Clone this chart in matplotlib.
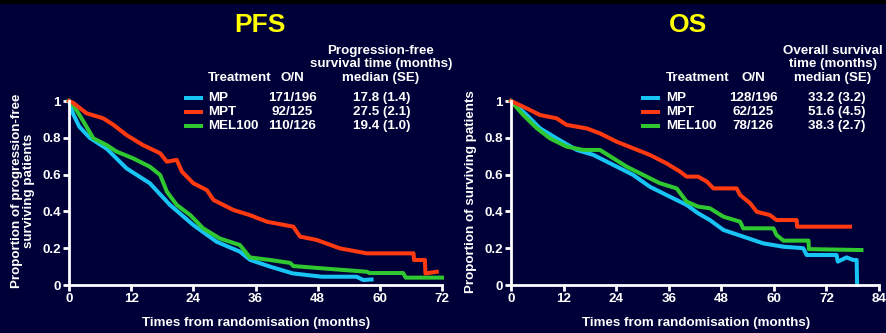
import matplotlib.pyplot as plt
from matplotlib.patches import Rectangle

# PFS curves (months, proportion)
pfs_mp_t = [0, 0.8, 2, 4, 7.3, 11.1, 15.6, 19.5, 24, 28.5, 33, 35, 38.8, 43.2, 48.8, 55.5, 56.8, 58.4]
pfs_mp_s = [1, 0.93, 0.86, 0.80, 0.74, 0.634, 0.553, 0.435, 0.326, 0.235, 0.181, 0.136, 0.10, 0.063, 0.045, 0.045, 0.027, 0.03]

pfs_mpt_t = [0, 0.8, 3.4, 6.6, 8.6, 11.1, 14.3, 17.6, 18.9, 20.8, 21.8, 24, 26.6, 27.9, 31.7, 34.9, 38.2,
             43.3, 44.6, 47.8, 52.3, 57.5, 66.5, 66.6, 68.7, 68.8, 71]
pfs_mpt_s = [1, 0.99, 0.933, 0.906, 0.87, 0.815, 0.76, 0.716, 0.67, 0.68, 0.616, 0.553, 0.516, 0.462, 0.408, 0.38, 0.344,
             0.317, 0.263, 0.245, 0.199, 0.172, 0.172, 0.136, 0.136, 0.063, 0.072]

pfs_mel_t = [0, 0.8, 2.8, 4.7, 7.3, 9.2, 12.4, 15.6, 17.6, 18.9, 20.8, 23.4, 25.9, 29.1, 33, 34.9, 38.8,
             42.7, 43.3, 49.1, 57.5, 58, 64.5, 65, 72]
pfs_mel_s = [1, 0.98, 0.888, 0.797, 0.76, 0.725, 0.688, 0.643, 0.598, 0.507, 0.435, 0.38, 0.308, 0.253, 0.217, 0.15, 0.136,
             0.12, 0.103, 0.09, 0.072, 0.065, 0.065, 0.04, 0.04]

# OS curves
os_mp_t = [0, 3.6, 6.6, 10.4, 15, 18.8, 23.4, 27.9, 31.7, 35.5, 40.1, 42.7, 45.4, 48.5, 53, 57.6, 62.2,
           66.7, 67.5, 74.3, 74.6, 76.6, 78.1, 78.9, 79]
os_mp_s = [1, 0.924, 0.852, 0.797, 0.734, 0.707, 0.652, 0.598, 0.534, 0.489, 0.435, 0.39, 0.353, 0.299, 0.263, 0.226, 0.208,
           0.2, 0.163, 0.163, 0.127, 0.15, 0.136, 0.136, 0.0]

os_mpt_t = [0, 3.6, 6.6, 10.4, 12.7, 17.3, 20.3, 24.1, 27.9, 31.7, 35.5, 38.6, 40.1, 42.7, 44.7, 46.2, 51.5,
            52.3, 54.6, 56.1, 59.1, 60.6, 65.2, 65.3, 77.4]
os_mpt_s = [1, 0.96, 0.924, 0.906, 0.87, 0.851, 0.824, 0.779, 0.743, 0.707, 0.661, 0.616, 0.589, 0.589, 0.562, 0.525, 0.525,
            0.489, 0.444, 0.398, 0.38, 0.353, 0.353, 0.317, 0.317]

os_mel_t = [0, 2.8, 5.9, 8.9, 12.7, 16.5, 20.3, 23.4, 26.4, 30.2, 34, 37.8, 40.1, 42.7, 45.4, 48.5, 52.3,
            53, 59.9, 60.6, 62.2, 67.9, 68, 80]
os_mel_s = [1, 0.924, 0.852, 0.797, 0.752, 0.734, 0.734, 0.688, 0.643, 0.598, 0.553, 0.525, 0.453, 0.426, 0.417, 0.371, 0.344,
            0.308, 0.308, 0.272, 0.241, 0.241, 0.195, 0.19]

treatments = ['MP', 'MPT', 'MEL100']
pfs_on = ['171/196', '92/125', '110/126']
pfs_median = ['17.8 (1.4)', '27.5 (2.1)', '19.4 (1.0)']
os_on = ['128/196', '62/125', '78/126']
os_median = ['33.2 (3.2)', '51.6 (4.5)', '38.3 (2.7)']

colors = ['#18c4f4', '#ff3a10', '#30c830']
bg = '#000038'
LW = 2.9
FS = 9.6

plt.rcParams['font.family'] = ['Liberation Sans', 'DejaVu Sans']
plt.rcParams['font.weight'] = 'bold'

W, H = 886, 333
fig = plt.figure(figsize=(W / 100, H / 100), dpi=100, facecolor=bg)
fig.patches.append(Rectangle((0, 1 - 3 / H), 1, 3 / H, transform=fig.transFigure, color='black', zorder=0))


def px(x, y):
    return x / W, 1 - y / H


def setup(ax, xmax, xstep):
    ax.set_facecolor(bg)
    ax.set_xlim(0, xmax)
    ax.set_ylim(0, 1)
    for s in ['top', 'right']:
        ax.spines[s].set_visible(False)
    for s in ['left', 'bottom']:
        ax.spines[s].set_color('white')
        ax.spines[s].set_linewidth(2)
    ax.set_xticks(range(0, xmax + 1, xstep))
    ax.set_yticks([0, 0.2, 0.4, 0.6, 0.8, 1])
    ax.set_yticklabels(['0', '0.2', '0.4', '0.6', '0.8', '1'])
    ax.tick_params(colors='white', width=2, length=4, labelsize=FS, pad=2)
    for lab in ax.get_xticklabels() + ax.get_yticklabels():
        lab.set_fontweight('bold')


ax1 = fig.add_axes([69 / W, 1 - 285 / H, 373 / W, 184 / H])
setup(ax1, 72, 12)
ax1.plot(pfs_mp_t, pfs_mp_s, color=colors[0], lw=LW, clip_on=False)
ax1.plot(pfs_mel_t, pfs_mel_s, color=colors[2], lw=LW, clip_on=False)
ax1.plot(pfs_mpt_t, pfs_mpt_s, color=colors[1], lw=LW, clip_on=False)

ax2 = fig.add_axes([511 / W, 1 - 285 / H, 368 / W, 184 / H])
setup(ax2, 84, 12)
ax2.plot(os_mp_t, os_mp_s, color=colors[0], lw=LW, clip_on=False)
ax2.plot(os_mel_t, os_mel_s, color=colors[2], lw=LW, clip_on=False)
ax2.plot(os_mpt_t, os_mpt_s, color=colors[1], lw=LW, clip_on=False)

tk = dict(color='white', fontsize=FS, fontweight='bold')

# titles
fig.text(*px(260, 25), 'PFS', color='#ffff00', fontsize=19, fontweight='bold', ha='center', va='center')
fig.text(*px(688, 25), 'OS', color='#ffff00', fontsize=19, fontweight='bold', ha='center', va='center')

# axis labels
fig.text(*px(256, 323), 'Times from randomisation (months)', ha='center', va='center', **tk)
fig.text(*px(696, 323), 'Times from randomisation (months)', ha='center', va='center', **tk)
fig.text(*px(23, 191), 'Proportion of progression-free\nsurviving patients', rotation=90,
         ha='center', va='center', linespacing=1.0, **tk)
fig.text(*px(471, 192), 'Proportion of surviving patients', rotation=90, ha='center', va='center', **tk)

# PFS table
fig.text(*px(208, 78), 'Treatment', ha='left', va='center', **tk)
fig.text(*px(292, 78), 'O/N', ha='center', va='center', **tk)
fig.text(*px(381, 51), 'Progression-free', ha='center', va='center', **tk)
fig.text(*px(381, 64.5), 'survival time (months)', ha='center', va='center', **tk)
fig.text(*px(381, 78), 'median (SE)', ha='center', va='center', **tk)
rows = [98, 112, 126]
for i in range(3):
    y = rows[i]
    fig.lines.append(plt.Line2D([186 / W, 201 / W], [1 - y / H] * 2, color=colors[i], lw=LW,
                                transform=fig.transFigure))
    fig.text(*px(208, y), treatments[i], ha='left', va='center', **tk)
    fig.text(*px(292.5, y), pfs_on[i], ha='center', va='center', **tk)
    fig.text(*px(381.5, y), pfs_median[i], ha='center', va='center', **tk)

# OS table
fig.text(*px(666, 78), 'Treatment', ha='left', va='center', **tk)
fig.text(*px(753, 78), 'O/N', ha='center', va='center', **tk)
fig.text(*px(833, 51), 'Overall survival', ha='center', va='center', **tk)
fig.text(*px(833, 64.5), 'time (months)', ha='center', va='center', **tk)
fig.text(*px(833, 78), 'median (SE)', ha='center', va='center', **tk)
for i in range(3):
    y = rows[i]
    fig.lines.append(plt.Line2D([643 / W, 658 / W], [1 - y / H] * 2, color=colors[i], lw=LW,
                                transform=fig.transFigure))
    fig.text(*px(666, y), treatments[i], ha='left', va='center', **tk)
    fig.text(*px(753, y), os_on[i], ha='center', va='center', **tk)
    fig.text(*px(837, y), os_median[i], ha='center', va='center', **tk)

fig.savefig('out.png', dpi=100, facecolor=bg)
